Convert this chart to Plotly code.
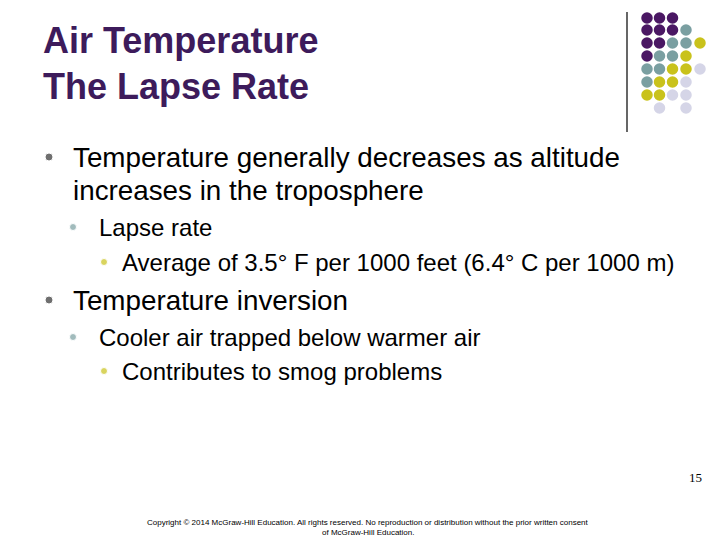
import plotly.graph_objects as go

P, T, Y, L = "#4A1763", "#7A9FA1", "#C9C21B", "#D5D5E7"
dot_rows = [
    [P, P, P, None, None],
    [P, P, P, T, None],
    [P, P, T, T, Y],
    [P, T, T, Y, None],
    [T, T, Y, Y, L],
    [T, Y, Y, L, None],
    [Y, Y, L, L, None],
    [None, L, None, L, None],
]
col_x = [647, 659.5, 672.5, 686, 700]
row_y = [18, 30, 43, 56, 69, 82, 95, 108]

xs, ys, cs = [], [], []
for r, row in enumerate(dot_rows):
    for c, col in enumerate(row):
        if col:
            xs.append(col_x[c]); ys.append(row_y[r]); cs.append(col)

fig = go.Figure()
fig.add_trace(go.Scatter(x=xs, y=ys, mode="markers",
                         marker=dict(size=11.5, color=cs, line=dict(width=0)), hoverinfo="skip"))
fig.add_shape(type="line", x0=627, x1=627, y0=12, y1=132, line=dict(color="black", width=1.2))

font = "Liberation Sans, Arial, sans-serif"
def txt(x, y, s, size, color="black", xanchor="left", fam=font):
    fig.add_annotation(x=x, y=y, text=s, showarrow=False, xanchor=xanchor, yanchor="middle",
                       font=dict(family=fam, size=size, color=color))

txt(41, 40, "<b>Air Temperature</b>", 36, "#3D1B5B")
txt(41, 86, "<b>The Lapse Rate</b>", 36, "#3D1B5B")

bullets = [(49, 157, "#333333", 8), (73, 227, T, 7), (104, 262, Y, 7),
           (49, 300, "#333333", 8), (73, 337, T, 7), (104, 371, Y, 7)]
fig.add_trace(go.Scatter(x=[b[0] for b in bullets], y=[b[1] for b in bullets], mode="markers",
                         marker=dict(size=[b[3] for b in bullets], color=[b[2] for b in bullets]),
                         hoverinfo="skip"))

txt(71, 157, "Temperature generally decreases as altitude", 27.8)
txt(71, 190, "increases in the troposphere", 27.8)
txt(97, 227, "Lapse rate", 24)
txt(120, 262, "Average of 3.5° F per 1000 feet (6.4° C per 1000 m)", 24)
txt(71, 300, "Temperature inversion", 27.8)
txt(97, 337, "Cooler air trapped below warmer air", 24)
txt(120, 371, "Contributes to smog problems", 24)
txt(704, 477, "15", 13, xanchor="right", fam="Liberation Serif, Times New Roman, serif")
txt(368, 522, "Copyright © 2014 McGraw-Hill Education. All rights reserved. No reproduction or distribution without the prior written consent", 8, xanchor="center")
txt(368, 532, "of McGraw-Hill Education.", 8, xanchor="center")

fig.update_layout(width=720, height=540, margin=dict(l=0, r=0, t=0, b=0),
                  paper_bgcolor="white", plot_bgcolor="white", showlegend=False,
                  xaxis=dict(range=[8, 728], visible=False, fixedrange=True),
                  yaxis=dict(range=[548, 8], visible=False, fixedrange=True))
fig.write_html("out.html", config={"displayModeBar": False})
